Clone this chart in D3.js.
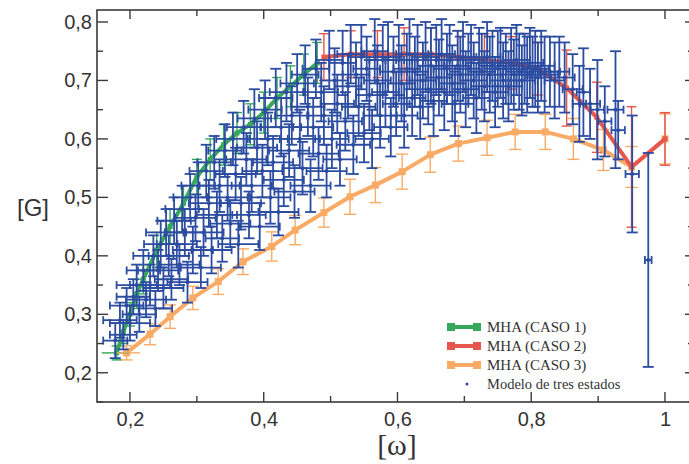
<!DOCTYPE html>
<html><head><meta charset="utf-8">
<script src="https://cdn.jsdelivr.net/npm/d3@7"></script>
<style>body{margin:0;background:#fff}svg{display:block}</style>
</head><body>
<svg id="chart" width="689" height="464"></svg>
<script>
// ---- DATA ----
const xTicks = [0.2, 0.4, 0.6, 0.8, 1.0];
const xTickLabels = ["0,2", "0,4", "0,6", "0,8", "1"];
const yTicks = [0.2, 0.3, 0.4, 0.5, 0.6, 0.7, 0.8];
const yTickLabels = ["0,2", "0,3", "0,4", "0,5", "0,6", "0,7", "0,8"];
const seriesNames = ["MHA (CASO 1)", "MHA (CASO 2)", "MHA (CASO 3)", "Modelo de tres estados"];

const caso1X = [0.18, 0.19, 0.20, 0.21, 0.22, 0.24, 0.26, 0.28, 0.30, 0.32, 0.34, 0.36, 0.38, 0.40, 0.42, 0.44, 0.46, 0.48];
const caso1Y = [0.234, 0.27, 0.30, 0.335, 0.36, 0.41, 0.45, 0.49, 0.535, 0.565, 0.59, 0.61, 0.625, 0.645, 0.67, 0.69, 0.71, 0.73];
const caso1Err = [0.012, 0.02, 0.02, 0.025, 0.025, 0.03, 0.03, 0.03, 0.03, 0.035, 0.035, 0.035, 0.035, 0.035, 0.035, 0.035, 0.035, 0.035];

const caso2X = [0.49, 0.53, 0.57, 0.61, 0.65, 0.69, 0.73, 0.77, 0.81, 0.853, 0.898, 0.95, 1.0];
const caso2Y = [0.74, 0.745, 0.745, 0.745, 0.745, 0.74, 0.735, 0.73, 0.72, 0.687, 0.637, 0.552, 0.60];
const caso2Err = [0.04, 0.04, 0.04, 0.045, 0.045, 0.045, 0.045, 0.045, 0.045, 0.065, 0.06, 0.103, 0.045];

const caso3X = [0.195, 0.23, 0.26, 0.294, 0.332, 0.369, 0.412, 0.447, 0.49, 0.529, 0.567, 0.607, 0.649, 0.691, 0.734, 0.776, 0.821, 0.863, 0.908, 0.95, 1.0];
const caso3Y = [0.234, 0.266, 0.296, 0.328, 0.356, 0.39, 0.416, 0.444, 0.474, 0.501, 0.521, 0.544, 0.573, 0.592, 0.602, 0.612, 0.612, 0.60, 0.581, 0.552, 0.60];
const caso3Err = [0.012, 0.018, 0.02, 0.02, 0.022, 0.022, 0.025, 0.025, 0.025, 0.03, 0.03, 0.03, 0.03, 0.03, 0.03, 0.03, 0.03, 0.035, 0.035, 0.035, 0.043];

const blueX = [0.178,0.185,0.19,0.195,0.20,
 0.205,0.21,0.214,0.22,0.224,0.23,0.235,0.238,0.242,0.246,0.25,
 0.254,0.258,0.262,0.266,0.27,0.274,0.278,0.282,0.286,0.29,0.294,0.298,
 0.302,0.306,0.31,0.314,0.318,0.322,0.326,0.33,0.334,0.338,0.342,0.346,0.35,
 0.354,0.358,0.362,0.366,0.37,0.374,0.378,0.382,0.386,0.39,0.394,0.398,
 0.402,0.406,0.41,0.414,0.418,0.422,0.426,0.43,0.434,0.438,0.442,0.446,0.45,
 0.454,0.458,0.462,0.466,0.47,0.474,0.478,0.482,0.486,0.49,0.494,0.498,
 0.502,0.506,0.51,0.514,0.518,0.522,0.526,0.53,0.534,0.538,0.542,0.546,0.55,
 0.554,0.558,0.562,0.566,0.57,0.574,0.578,0.582,0.586,0.59,0.594,0.598,
 0.602,0.606,0.61,0.614,0.618,0.622,0.626,0.63,0.634,0.638,0.642,0.646,0.65,
 0.654,0.658,0.662,0.666,0.67,0.674,0.678,0.682,0.686,0.69,0.694,0.698,
 0.702,0.706,0.71,0.714,0.718,0.722,0.726,0.73,0.734,0.738,0.742,0.746,0.75,
 0.754,0.758,0.762,0.766,0.77,0.774,0.778,0.782,0.786,0.79,0.794,0.798,
 0.802,0.806,0.81,0.815,0.82,0.828,0.835,0.842,0.85,
 0.862,0.872,0.878,0.888,0.899,0.91,0.926,0.93,0.951,0.975];
const blueY = [0.255,0.29,0.265,0.315,0.285,
 0.33,0.35,0.30,0.375,0.325,0.35,0.40,0.31,0.375,0.42,0.345,
 0.44,0.40,0.36,0.46,0.42,0.385,0.48,0.44,0.355,0.50,0.41,0.465,
 0.52,0.38,0.44,0.545,0.49,0.41,0.56,0.47,0.52,0.43,0.58,0.50,0.455,
 0.60,0.54,0.42,0.49,0.62,0.565,0.47,0.52,0.635,0.585,0.45,0.545,
 0.65,0.60,0.50,0.56,0.67,0.475,0.62,0.53,0.68,0.58,0.64,0.51,0.695,
 0.60,0.55,0.71,0.655,0.52,0.62,0.72,0.575,0.68,0.64,0.545,0.735,
 0.60,0.70,0.66,0.565,0.73,0.63,0.69,0.745,0.59,0.71,0.655,0.74,0.61,
 0.72,0.675,0.60,0.75,0.70,0.64,0.735,0.68,0.74,0.62,0.715,0.66,
 0.735,0.695,0.64,0.72,0.745,0.67,0.715,0.735,0.655,0.70,0.74,0.685,0.725,
 0.665,0.735,0.705,0.745,0.68,0.72,0.735,0.695,0.66,0.725,0.71,0.74,
 0.685,0.72,0.735,0.70,0.67,0.73,0.715,0.69,0.74,0.71,0.725,0.68,0.72,
 0.73,0.70,0.72,0.69,0.725,0.71,0.735,0.715,0.70,0.72,0.71,0.73,
 0.715,0.72,0.705,0.725,0.71,0.715,0.70,0.715,0.705,
 0.685,0.66,0.68,0.66,0.65,0.63,0.65,0.615,0.54,0.393];
const blueXErr = [0.018,0.025,0.02,0.025,0.03,
 0.025,0.03,0.025,0.025,0.03,0.03,0.03,0.025,0.03,0.025,0.03,
 0.03,0.03,0.025,0.025,0.03,0.03,0.025,0.03,0.03,0.025,0.03,0.03,
 0.025,0.03,0.03,0.025,0.03,0.03,0.025,0.03,0.03,0.025,0.025,0.03,0.03,
 0.025,0.03,0.03,0.03,0.025,0.03,0.025,0.03,0.025,0.03,0.03,0.03,
 0.025,0.03,0.03,0.03,0.025,0.03,0.03,0.03,0.025,0.03,0.025,0.03,0.025,
 0.03,0.03,0.02,0.025,0.03,0.03,0.02,0.03,0.025,0.025,0.03,0.02,
 0.025,0.02,0.025,0.025,0.02,0.025,0.02,0.02,0.025,0.02,0.025,0.02,0.025,
 0.02,0.02,0.025,0.02,0.02,0.025,0.02,0.02,0.02,0.025,0.02,0.02,
 0.02,0.02,0.02,0.02,0.02,0.02,0.02,0.02,0.02,0.02,0.02,0.02,0.02,
 0.02,0.02,0.02,0.02,0.02,0.02,0.02,0.02,0.02,0.02,0.02,0.02,
 0.02,0.02,0.02,0.02,0.02,0.02,0.02,0.02,0.02,0.02,0.02,0.02,0.02,
 0.02,0.02,0.02,0.02,0.02,0.02,0.02,0.02,0.02,0.02,0.02,0.02,
 0.02,0.02,0.02,0.02,0.02,0.015,0.015,0.015,0.015,
 0.015,0.01,0.01,0.015,0.01,0.01,0.012,0.01,0.01,0.005];
const blueYErr = [0.03,0.03,0.025,0.03,0.03,
 0.03,0.035,0.03,0.035,0.03,0.035,0.035,0.03,0.035,0.04,0.035,
 0.04,0.035,0.035,0.04,0.04,0.035,0.04,0.04,0.035,0.04,0.04,0.04,
 0.04,0.035,0.04,0.045,0.04,0.04,0.045,0.04,0.045,0.04,0.045,0.04,0.04,
 0.045,0.045,0.04,0.045,0.045,0.045,0.04,0.045,0.05,0.045,0.04,0.045,
 0.05,0.045,0.045,0.045,0.05,0.04,0.05,0.045,0.05,0.045,0.05,0.045,0.05,
 0.05,0.045,0.05,0.05,0.045,0.05,0.05,0.045,0.05,0.05,0.045,0.05,
 0.05,0.055,0.05,0.045,0.055,0.05,0.055,0.05,0.05,0.055,0.05,0.055,0.05,
 0.055,0.06,0.05,0.055,0.06,0.055,0.06,0.06,0.06,0.05,0.06,0.055,
 0.06,0.065,0.055,0.06,0.06,0.065,0.06,0.06,0.055,0.065,0.06,0.06,0.065,
 0.06,0.06,0.065,0.06,0.065,0.06,0.06,0.065,0.055,0.06,0.065,0.06,
 0.065,0.06,0.06,0.065,0.06,0.06,0.065,0.06,0.06,0.065,0.06,0.06,0.065,
 0.06,0.065,0.06,0.06,0.065,0.06,0.06,0.065,0.06,0.06,0.065,0.06,
 0.06,0.065,0.06,0.06,0.065,0.06,0.065,0.06,0.06,
 0.06,0.065,0.075,0.06,0.085,0.06,0.1,0.05,0.1,0.183];

// ---- CHART ----
const pLeft = 97, pRight = 694, pTop = 10, pBottom = 402;
const svg = d3.select("#chart");
const x = d3.scaleLinear().domain([0.1507, 1.0434]).range([pLeft, pRight]);
const y = d3.scaleLinear().domain([0.15, 0.8205]).range([pBottom, pTop]);

const colors = {c1: "#35a85a", c2: "#e8574c", c3: "#f9ab66", blue: "#2b4ca0"};
const axisColor = "#3a3a3a";

svg.append("defs").append("clipPath").attr("id", "clip")
  .append("rect").attr("x", pLeft).attr("y", pTop).attr("width", pRight - pLeft).attr("height", pBottom - pTop);
const plot = svg.append("g").attr("clip-path", "url(#clip)");

function drawSeries(xs, ys, errs, color, lw, msize, capw) {
  const g = plot.append("g");
  const pts = xs.map((v, i) => ({x: v, y: ys[i], e: errs[i]}));
  g.selectAll(null).data(pts).enter().append("line")
    .attr("x1", d => x(d.x)).attr("x2", d => x(d.x))
    .attr("y1", d => y(d.y - d.e)).attr("y2", d => y(d.y + d.e))
    .attr("stroke", color).attr("stroke-width", 1.4);
  [1, -1].forEach(s => {
    g.selectAll(null).data(pts).enter().append("line")
      .attr("x1", d => x(d.x) - capw).attr("x2", d => x(d.x) + capw)
      .attr("y1", d => y(d.y + s * d.e)).attr("y2", d => y(d.y + s * d.e))
      .attr("stroke", color).attr("stroke-width", 1.4);
  });
  g.append("path").datum(pts)
    .attr("d", d3.line().x(d => x(d.x)).y(d => y(d.y)))
    .attr("fill", "none").attr("stroke", color).attr("stroke-width", lw)
    .attr("stroke-linejoin", "round");
  g.selectAll("rect").data(pts).enter().append("rect")
    .attr("x", d => x(d.x) - msize / 2).attr("y", d => y(d.y) - msize / 2)
    .attr("width", msize).attr("height", msize).attr("fill", color);
}

drawSeries(caso3X, caso3Y, caso3Err, colors.c3, 4, 7, 6);
drawSeries(caso1X, caso1Y, caso1Err, colors.c1, 4, 5, 5);
drawSeries(caso2X, caso2Y, caso2Err, colors.c2, 4, 5, 5);
plot.append("line").attr("x1", x(caso1X[0] - 0.022)).attr("x2", x(caso1X[0] + 0.02))
  .attr("y1", y(caso1Y[0])).attr("y2", y(caso1Y[0])).attr("stroke", colors.c1).attr("stroke-width", 1.4);
plot.append("line").attr("x1", x(caso3X[0] - 0.015)).attr("x2", x(caso3X[0] + 0.02))
  .attr("y1", y(caso3Y[0])).attr("y2", y(caso3Y[0])).attr("stroke", colors.c3).attr("stroke-width", 1.4);

// blue model with x/y error bars
const bpts = blueX.map((v, i) => ({x: v, y: blueY[i], ex: blueXErr[i], ey: blueYErr[i]}));
const bg = plot.append("g").attr("stroke", colors.blue).attr("stroke-width", 1.8);
bpts.forEach(d => {
  const cx = x(d.x), cy = y(d.y);
  const x0 = x(d.x - d.ex), x1 = x(d.x + d.ex), y0 = y(d.y - d.ey), y1 = y(d.y + d.ey);
  bg.append("line").attr("x1", cx).attr("x2", cx).attr("y1", y0).attr("y2", y1);
  bg.append("line").attr("x1", x0).attr("x2", x1).attr("y1", cy).attr("y2", cy);
  bg.append("line").attr("x1", cx - 5.5).attr("x2", cx + 5.5).attr("y1", y0).attr("y2", y0);
  bg.append("line").attr("x1", cx - 5.5).attr("x2", cx + 5.5).attr("y1", y1).attr("y2", y1);
  bg.append("line").attr("x1", x0).attr("x2", x0).attr("y1", cy - 4).attr("y2", cy + 4);
  bg.append("line").attr("x1", x1).attr("x2", x1).attr("y1", cy - 4).attr("y2", cy + 4);
});
plot.append("g").selectAll("circle").data(bpts).enter().append("circle")
  .attr("cx", d => x(d.x)).attr("cy", d => y(d.y)).attr("r", 2).attr("fill", colors.blue);

// ---- AXES ----
const frame = svg.append("g");
frame.append("rect").attr("x", pLeft).attr("y", pTop).attr("width", pRight - pLeft).attr("height", pBottom - pTop)
  .attr("fill", "none").attr("stroke", axisColor).attr("stroke-width", 1.6);

const xMinor = d3.range(0.2, 1.05, 0.1).map(v => +v.toFixed(2));
const yMinor = d3.range(0.15, 0.82, 0.05).map(v => +v.toFixed(2));

xMinor.forEach(v => {
  const maj = xTicks.some(t => Math.abs(t - v) < 1e-6);
  frame.append("line").attr("x1", x(v)).attr("x2", x(v)).attr("y1", pBottom).attr("y2", pBottom - (maj ? 10 : 6))
    .attr("stroke", axisColor).attr("stroke-width", 1.4);
  frame.append("line").attr("x1", x(v)).attr("x2", x(v)).attr("y1", pTop).attr("y2", pTop + (maj ? 9 : 6))
    .attr("stroke", axisColor).attr("stroke-width", 1.4);
});
yMinor.forEach(v => {
  const maj = yTicks.some(t => Math.abs(t - v) < 1e-6);
  frame.append("line").attr("x1", pLeft).attr("x2", pLeft + (maj ? 11 : 6)).attr("y1", y(v)).attr("y2", y(v))
    .attr("stroke", axisColor).attr("stroke-width", 1.4);
  frame.append("line").attr("x1", pRight).attr("x2", pRight - (maj ? 9 : 6)).attr("y1", y(v)).attr("y2", y(v))
    .attr("stroke", axisColor).attr("stroke-width", 1.4);
});

const gx = svg.append("g").attr("transform", `translate(0,${pBottom})`)
  .call(d3.axisBottom(x).tickValues(xTicks).tickSize(0).tickPadding(10).tickFormat((d, i) => xTickLabels[i]));
gx.select(".domain").remove();
gx.selectAll("text").attr("font-family", "Liberation Sans, Arial, sans-serif").attr("font-size", 20).attr("fill", "#333");

const gy = svg.append("g").attr("transform", `translate(${pLeft},0)`)
  .call(d3.axisLeft(y).tickValues(yTicks).tickSize(0).tickPadding(5).tickFormat((d, i) => yTickLabels[i]));
gy.select(".domain").remove();
gy.selectAll("text").attr("font-family", "Liberation Sans, Arial, sans-serif").attr("font-size", 20).attr("fill", "#333");

svg.append("text").attr("x", 397).attr("y", 455).attr("text-anchor", "middle")
  .attr("font-family", "Liberation Serif, Times New Roman, serif").attr("font-size", 30).attr("fill", "#333").text("[ω]");
svg.append("text").attr("x", 33).attr("y", 216).attr("text-anchor", "middle")
  .attr("font-family", "Liberation Sans, Arial, sans-serif").attr("font-size", 24).attr("fill", "#333").text("[G]");

// ---- LEGEND ----
const leg = svg.append("g");
const legColors = [colors.c1, colors.c2, colors.c3];
const legY = [327, 346, 365, 384];
legColors.forEach((c, i) => {
  leg.append("line").attr("x1", 450).attr("x2", 478).attr("y1", legY[i]).attr("y2", legY[i])
    .attr("stroke", c).attr("stroke-width", 4);
  leg.append("rect").attr("x", 447).attr("y", legY[i] - 4).attr("width", 8).attr("height", 8).attr("fill", c);
  leg.append("rect").attr("x", 473).attr("y", legY[i] - 4).attr("width", 8).attr("height", 8).attr("fill", c);
});
leg.append("circle").attr("cx", 467).attr("cy", legY[3]).attr("r", 1.5).attr("fill", colors.blue);
seriesNames.forEach((n, i) => {
  leg.append("text").attr("x", 487).attr("y", legY[i] + 5)
    .attr("font-family", "Liberation Serif, Times New Roman, serif").attr("font-size", i < 3 ? 15 : 14.5)
    .attr("fill", "#333").text(n);
});
</script>
</body></html>
